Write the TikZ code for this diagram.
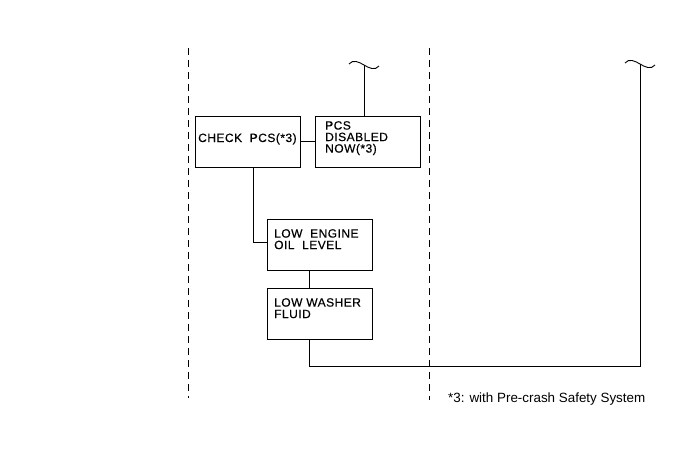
\documentclass[tikz,border=0pt]{standalone}
\usepackage{fontspec}
\setmainfont{Liberation Sans}
\newfontfamily\boxfont{Liberation Sans}[LetterSpace=4,FakeBold=0.4]
\begin{document}
\begin{tikzpicture}[x=1pt,y=-1pt,
  box/.style={draw=black,line width=0.9pt,rectangle,inner sep=0pt,minimum width=105pt,minimum height=51pt},
  boxtxt/.style={font=\boxfont\fontsize{12}{11.5}\selectfont,anchor=base west,inner sep=0pt,align=left},
  wire/.style={draw=black,line width=0.9pt},
  sep/.style={draw=black,line width=0.8pt,dash pattern=on 7pt off 5pt},
  note/.style={font=\fontsize{13.4}{15}\selectfont,anchor=base west,inner sep=0pt}]
\useasboundingbox (0,0) rectangle (690,467);
% separators
\coordinate (s1a) at (188,48); \coordinate (s1b) at (188,398);
\coordinate (s2a) at (429,48); \coordinate (s2b) at (429,400);
\draw[sep] (s1a) -- (s1b);
\draw[sep] (s2a) -- (s2b);
% boxes
\node[box] (check) at (247.5,141.5) {};
\node[box] (pcsdis) at (367.5,141.5) {};
\node[box] (oil) at (319.5,245) {};
\node[box] (wash) at (319.5,313.5) {};
% texts
\node[boxtxt] (tcheck) at (198,142) {CHECK\ \ PCS(*3)};
\node[boxtxt,anchor=north west] (tpcs) at (325,121) {PCS\\DISABLED\\NOW(*3)};
\node[boxtxt,anchor=north west] (toil) at (274,229) {LOW\ \ ENGINE\\OIL\ \ LEVEL};
\node[boxtxt,anchor=north west] (twash) at (274,298) {LOW WASHER\\FLUID};
% connectors
\draw[wire] (check.east) -- (pcsdis.west |- check.east);
\coordinate (t1) at (364,65);
\draw[wire] (pcsdis.north -| t1) -- (t1);
\draw[wire] ([xshift=-15pt,yshift=1pt]t1) .. controls +(4,-5) and +(-5,-3) .. (t1) .. controls +(5,3) and +(-4,5) .. ([xshift=15pt,yshift=-1pt]t1);
\coordinate (k0) at (253,242);
\draw[wire] (check.south -| k0) -- (k0) -- (oil.west |- k0);
\coordinate (k2) at (309,280);
\draw[wire] (oil.south -| k2) -- (wash.north -| k2);
\coordinate (t2) at (640,64);
\coordinate (k1) at (309,366);
\draw[wire] (wash.south -| k1) -- (k1) -- (k1 -| t2) -- (t2);
\draw[wire] ([xshift=-15pt,yshift=1pt]t2) .. controls +(4,-5) and +(-5,-3) .. (t2) .. controls +(5,3) and +(-4,5) .. ([xshift=15pt,yshift=-1pt]t2);
% note
\node[note] (fn) at (448,402) {*3: with Pre-crash Safety System};
\end{tikzpicture}
\end{document}
